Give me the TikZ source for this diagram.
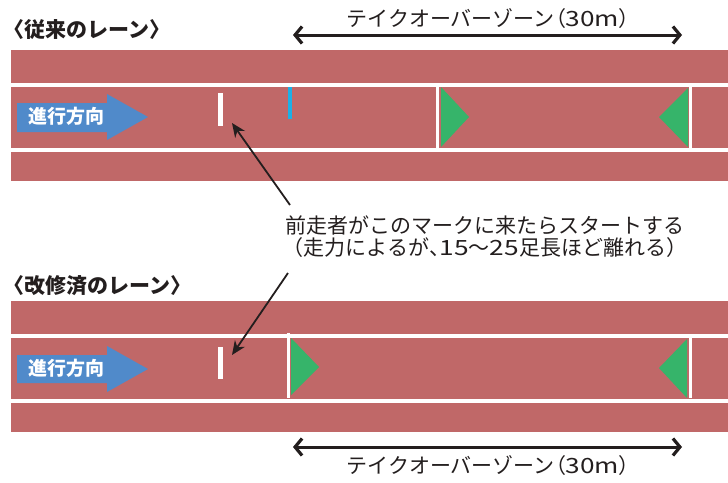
\documentclass[tikz,border=0pt]{standalone}
\usepackage{fontspec}
\usepackage{graphicx}
\setmainfont{Noto Sans CJK JP}
\usetikzlibrary{arrows.meta}
\definecolor{track}{RGB}{192,104,104}
\definecolor{dirblue}{RGB}{80,138,202}
\definecolor{zonegreen}{RGB}{54,180,106}
\definecolor{markcyan}{RGB}{27,176,230}
\definecolor{ink}{RGB}{35,30,30}
\newcommand{\pro}[1]{{\addfontfeature{RawFeature=+palt}#1}}
\newcommand{\widedig}[1]{\scalebox{1.25}[1]{#1}}
\begin{document}
\begin{tikzpicture}[x=1pt,y=-1pt,
  trackbg/.style={fill=track},
  laneline/.style={draw=white,line width=4pt},
  zoneline/.style={draw=white,line width=3pt},
  zonetri/.style={fill=zonegreen},
  dirarrow/.style={fill=dirblue},
  dirtext/.style={text=white,font=\bfseries\fontsize{19}{19}\selectfont,inner sep=0pt},
  takemark/.style={fill=white},
  zonearrow/.style={draw=ink,line width=3pt,{Straight Barb[length=7pt,width=17pt,line width=3.2pt]}-{Straight Barb[length=7pt,width=17pt,line width=3.2pt]}},
  callout/.style={draw=ink,line width=1.8pt,-{Stealth[length=14pt,width=12pt]}},
  titletext/.style={text=ink,font=\bfseries\fontsize{21}{21}\selectfont,inner sep=0pt,anchor=west},
  labeltext/.style={text=ink,font=\fontsize{21}{21}\selectfont,inner sep=0pt}
]
\useasboundingbox (0,0) rectangle (728,482);

% ---------- top: conventional lane ----------
\node[titletext] (title1) at (3,30) {〈従来のレーン〉};
\fill[trackbg] (11,50) rectangle (728,181);
\draw[laneline] (11,84.5) -- (728,84.5);
\draw[laneline] (11,149.7) -- (728,149.7);
\fill[dirarrow] (17,103) -- (107,103) -- (107,94) -- (148,117) -- (107,140) -- (107,132) -- (17,132) -- cycle;
\node[dirtext] (dir1) at (66,116) {進行方向};
\fill[takemark] (218,93) rectangle (222.5,126);
\coordinate (mark1) at (232,123);
\fill[markcyan] (288,87) rectangle (292,119);
\draw[zoneline] (437,87) -- (437,148);
\fill[zonetri] (441,87) -- (469,117) -- (441,147) -- cycle;
\fill[zonetri] (688,88) -- (659,117) -- (688,147) -- cycle;
\draw[zoneline] (690.5,87) -- (690.5,148);
\coordinate (zoneL1) at (293,35);
\coordinate (zoneR1) at (682,35);
\draw[zonearrow] (zoneL1) -- (zoneR1);
\node[labeltext] (zonelabel1) at (488,19) {テイクオーバーゾーン\pro{（}\widedig{30m}\pro{）}};

% ---------- note ----------
\node[labeltext,align=center] (note) at (485,237) {前走者がこのマークに来たらスタートする\\[1pt]（走力によるが\pro{、}\widedig{15}〜\widedig{25}足長ほど離れる）};
\coordinate (noteTop) at (290,205);
\coordinate (noteBot) at (288,273);
\draw[callout] (noteTop) -- (mark1);

% ---------- bottom: renovated lane ----------
\node[titletext] (title2) at (3,286) {〈改修済のレーン〉};
\fill[trackbg] (11,301) rectangle (728,432);
\draw[laneline] (11,336) -- (728,336);
\draw[laneline] (11,401) -- (728,401);
\fill[dirarrow] (17,355) -- (107,355) -- (107,346) -- (148,369) -- (107,392) -- (107,383) -- (17,383) -- cycle;
\node[dirtext] (dir2) at (66,368) {進行方向};
\fill[takemark] (218,347) rectangle (222.5,379);
\coordinate (mark2) at (232,355);
\draw[zoneline] (288.5,333) -- (288.5,398);
\fill[zonetri] (291,338) -- (319,367) -- (291,395) -- cycle;
\fill[zonetri] (687,339) -- (659,368) -- (687,398) -- cycle;
\draw[zoneline] (690.5,338) -- (690.5,398);
\draw[callout] (noteBot) -- (mark2);
\coordinate (zoneL2) at (293,447);
\coordinate (zoneR2) at (682,447);
\draw[zonearrow] (zoneL2) -- (zoneR2);
\node[labeltext] (zonelabel2) at (488,466) {テイクオーバーゾーン\pro{（}\widedig{30m}\pro{）}};
\end{tikzpicture}
\end{document}
